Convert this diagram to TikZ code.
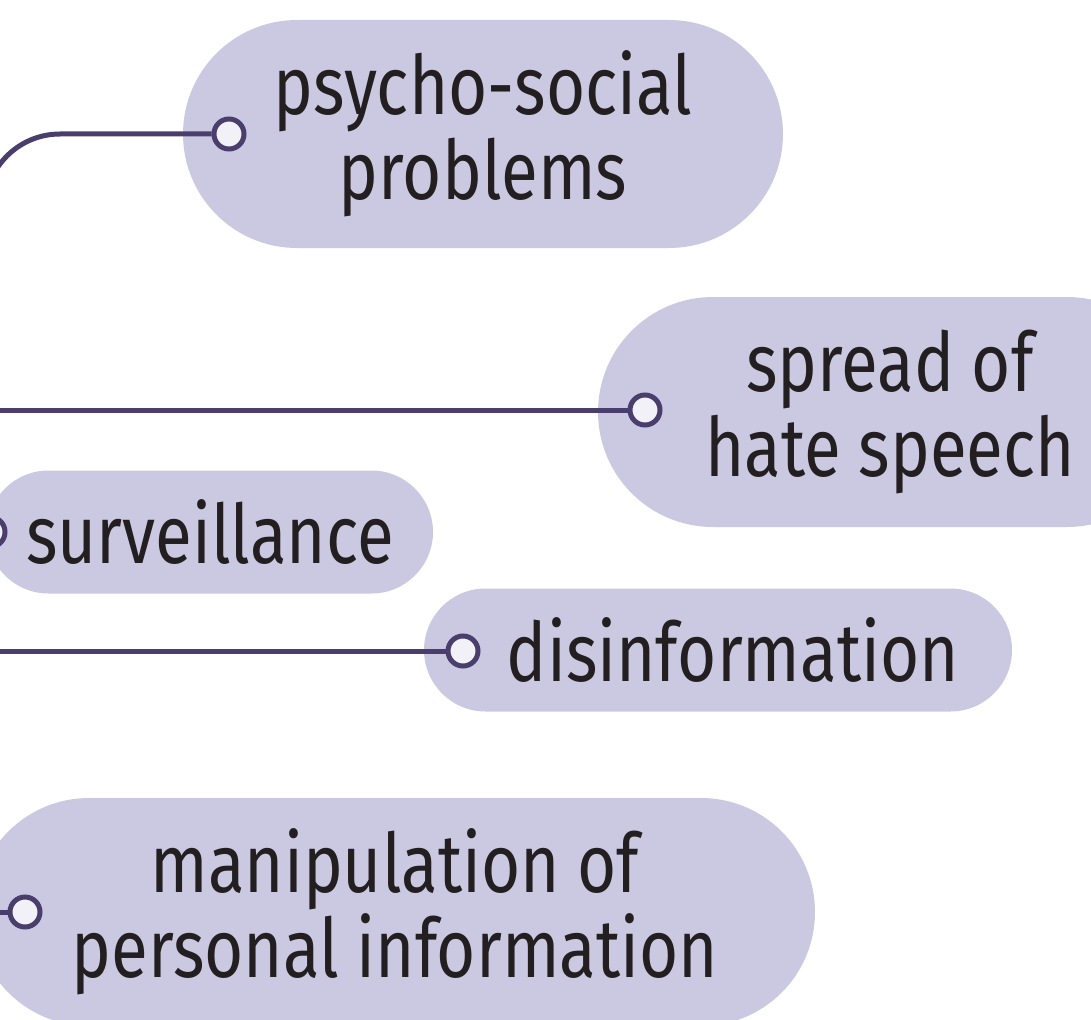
\documentclass[tikz,border=0pt]{standalone}
\usepackage{fontspec}
\setmainfont[FakeStretch=0.82]{Fira Sans}
\usetikzlibrary{shapes.misc}

\definecolor{pillfill}{HTML}{CBC8E2}
\definecolor{linkline}{HTML}{4A3F6C}
\definecolor{portfill}{HTML}{F2F1F7}
\definecolor{labeltext}{HTML}{231F20}

\begin{document}
\begin{tikzpicture}[x=1pt, y=-1pt]
				\tikzstyle{pill} = [rounded rectangle, fill=pillfill, draw=none, align=center, inner sep=0pt, text=labeltext, font=\fontsize{82}{85}\selectfont]
				\tikzstyle{port} = [circle, draw=linkline, line width=5pt, fill=portfill, minimum size=30pt, inner sep=0pt]
				\tikzstyle{link} = [draw=linkline, line width=5pt]
				
				\useasboundingbox (0, 0) rectangle (1091, 1019);
				\clip (0, 0) rectangle (1091, 1019);
				
				\node[pill, minimum width=600pt, minimum height=228pt] at (483, 134) (psycho) {psycho-social\\problems};
				\node[pill, minimum width=584pt, minimum height=230pt] at (890, 412) (hate) {spread of\\hate speech};
				\node[pill, minimum width=446pt, minimum height=123pt] at (210, 532) (surv) {surveillance};
				\node[pill, minimum width=588pt, minimum height=123pt] at (718, 650) (disinfo) {\hspace*{30pt}disinformation};
				\node[pill, minimum width=840pt, minimum height=228pt] at (395, 912) (manip) {manipulation of\\personal information};
				
				\node[port] at (229, 134) (psychoport) {};
				\node[port] at (645, 410) (hateport) {};
				\node[port] at (-10, 532) (survport) {};
				\node[port] at (463, 651) (disinfoport) {};
				\node[port] at (25, 912) (manipport) {};
				
				\coordinate (trunk) at (-15, 320);
				\coordinate (hatein) at (-20, 410);
				\coordinate (disinfoin) at (-20, 651);
				\coordinate (manipin) at (-20, 912);
				
				\draw[link, rounded corners=75pt] (psychoport.west) -| (trunk);
				\path[link]
				(hatein)	--	(hateport.west)
				(disinfoin)	--	(disinfoport.west)
				(manipin)	--	(manipport.west);
\end{tikzpicture}
\end{document}
